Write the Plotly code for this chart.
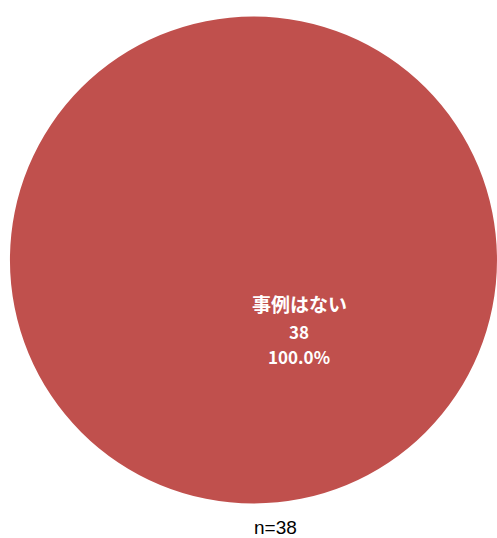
import plotly.graph_objects as go

labels = ["事例はない"]
values = [38]
colors = ["#C0504D"]

W, H = 497, 538
total = sum(values)

fig = go.Figure(go.Pie(
    labels=labels,
    values=values,
    marker=dict(colors=colors, line=dict(width=0)),
    textinfo="none",
    hoverinfo="label+value+percent",
    sort=False,
    showlegend=False,
    domain=dict(x=[0.02, 1.0], y=[32 / H, 524 / H]),
))

# data label (placed like the original's inside label)
lines = [labels[0], str(values[0]), f"{values[0] / total * 100:.1f}%"]
ys = [303, 331, 356]
sizes = [19, 17, 17]
for txt, yy, sz in zip(lines, ys, sizes):
    fig.add_annotation(
        x=299 / W, y=1 - yy / H, xref="paper", yref="paper",
        text=f"<b>{txt}</b>", showarrow=False,
        font=dict(family="Noto Sans CJK JP, sans-serif", size=sz, color="white"),
        xanchor="center", yanchor="middle",
    )

fig.add_annotation(
    x=275 / W, y=1 - 527 / H, xref="paper", yref="paper",
    text=f"n={total}", showarrow=False,
    font=dict(family="Liberation Sans, Arial, sans-serif", size=19, color="black"),
    xanchor="center", yanchor="middle",
)

fig.update_layout(
    width=W, height=H,
    margin=dict(l=0, r=0, t=0, b=0),
    paper_bgcolor="white", plot_bgcolor="white",
)

fig.write_html("out.html")
